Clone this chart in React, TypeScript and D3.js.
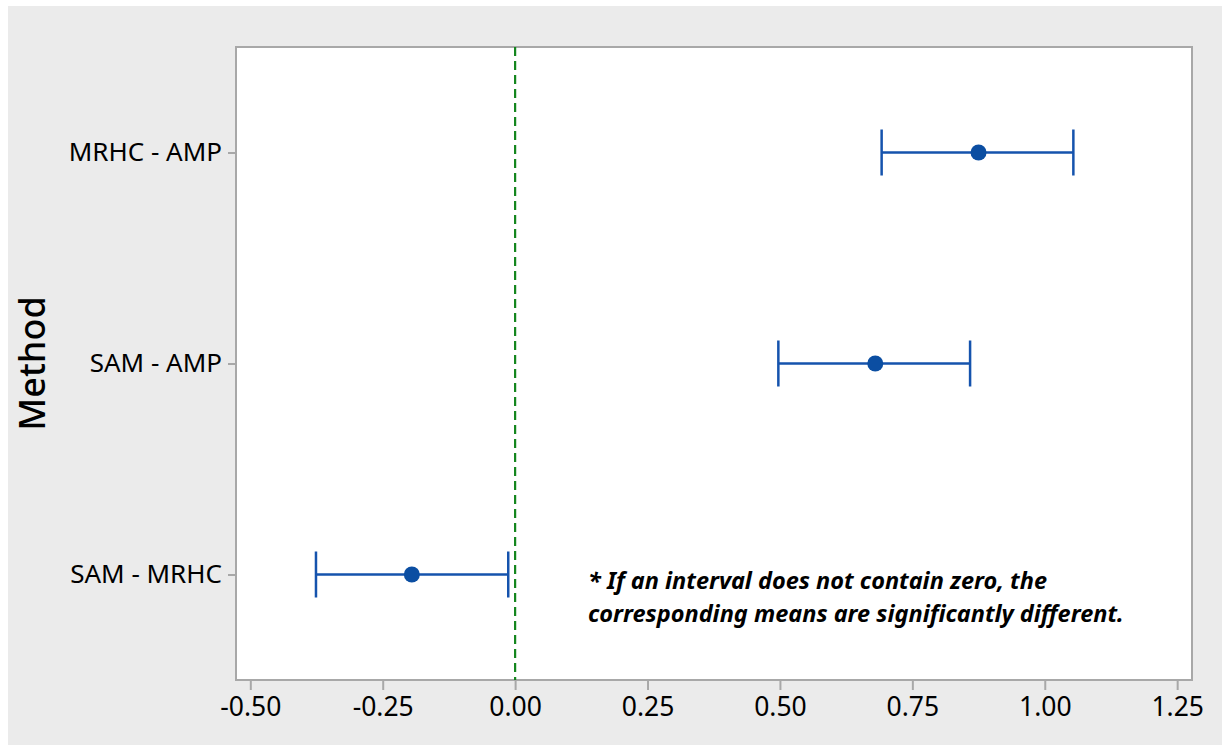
import React, { useEffect, useRef } from 'react';
import * as d3 from 'd3';

// Tukey-style pairwise differences of means
const comparisons = ['MRHC - AMP', 'SAM - AMP', 'SAM - MRHC'];
const centers = [0.875, 0.68, -0.195];
const lowers = [0.692, 0.497, -0.376];
const uppers = [1.054, 0.859, -0.013];
const xTicks = [-0.5, -0.25, 0, 0.25, 0.5, 0.75, 1.0, 1.25];
const noteLines = [
    '* If an interval does not contain zero, the',
    'corresponding means are significantly different.',
];

const W = 1228;
const H = 749;

const IntervalPlot = () => {
    const ref = useRef<HTMLDivElement>(null);

    useEffect(() => {
        const margin = { top: 47, right: 36, bottom: 69, left: 236 };
        const font = '"Noto Sans", "Open Sans", sans-serif';
        const blue = '#1553ad';

        d3.select(ref.current).selectAll('*').remove();

        const svg = d3
            .select(ref.current)
            .append('svg')
            .attr('width', W)
            .attr('height', H)
            .style('position', 'absolute')
            .style('left', '0px')
            .style('top', '0px');

        // sfondo grigio
        svg.append('rect').attr('width', W).attr('height', H).attr('fill', '#fff');
        svg.append('rect').attr('x', 8).attr('y', 6).attr('width', 1214).attr('height', 739).attr('fill', '#ebebeb');

        const x = d3
            .scaleLinear()
            .domain([-0.527, 1.278])
            .range([margin.left, W - margin.right]);

        const y = d3
            .scalePoint()
            .domain(comparisons)
            .range([margin.top, H - margin.bottom])
            .padding(0.5);

        // area del grafico
        svg
            .append('rect')
            .attr('x', margin.left)
            .attr('y', margin.top)
            .attr('width', W - margin.right - margin.left)
            .attr('height', H - margin.bottom - margin.top)
            .attr('fill', '#fff')
            .attr('stroke', '#a8a8a8')
            .attr('stroke-width', 2);

        // asse X
        const xAxis = svg
            .append('g')
            .attr('transform', `translate(0,${H - margin.bottom})`)
            .call(d3.axisBottom(x).tickValues(xTicks).tickSize(10).tickPadding(7).tickFormat(d3.format('.2f')));
        xAxis.select('.domain').remove();
        xAxis.selectAll('line').attr('stroke', '#a8a8a8').attr('stroke-width', 2);
        xAxis
            .selectAll('text')
            .attr('fill', '#000')
            .style('font-family', font)
            .style('font-size', '26.5px')
            .text((d: any) => d3.format('.2f')(d).replace('−', '-'));

        // asse Y
        const yAxis = svg
            .append('g')
            .attr('transform', `translate(${margin.left},0)`)
            .call(d3.axisLeft(y).tickSize(8).tickPadding(6));
        yAxis.select('.domain').remove();
        yAxis.selectAll('line').attr('stroke', '#a8a8a8').attr('stroke-width', 2);
        yAxis
            .selectAll('text')
            .attr('fill', '#000')
            .style('font-family', font)
            .style('font-size', '26px');

        svg
            .append('text')
            .attr('transform', `translate(45,${(margin.top + H - margin.bottom) / 2}) rotate(-90)`)
            .attr('text-anchor', 'middle')
            .attr('fill', '#000')
            .style('font-family', font)
            .style('font-size', '36px')
            .style('font-weight', 500)
            .text('Method');

        // linea dello zero
        svg
            .append('line')
            .attr('x1', x(0))
            .attr('x2', x(0))
            .attr('y1', margin.top)
            .attr('y2', H - margin.bottom)
            .attr('stroke', '#13861d')
            .attr('stroke-width', 2.2)
            .attr('stroke-dasharray', '9,5');

        // intervalli
        const g = svg.append('g').selectAll('g').data(comparisons).join('g');
        g.append('line')
            .attr('x1', (_, i) => x(lowers[i]))
            .attr('x2', (_, i) => x(uppers[i]))
            .attr('y1', (d) => y(d)!)
            .attr('y2', (d) => y(d)!)
            .attr('stroke', blue)
            .attr('stroke-width', 2.5);
        [lowers, uppers].forEach((arr) => {
            g.append('line')
                .attr('x1', (_, i) => x(arr[i]))
                .attr('x2', (_, i) => x(arr[i]))
                .attr('y1', (d) => y(d)! - 23)
                .attr('y2', (d) => y(d)! + 23)
                .attr('stroke', blue)
                .attr('stroke-width', 2.5);
        });
        g.append('circle')
            .attr('cx', (_, i) => x(centers[i]))
            .attr('cy', (d) => y(d)!)
            .attr('r', 8)
            .attr('fill', '#0b4ea2');

        // nota
        svg
            .append('text')
            .attr('x', 588)
            .attr('y', 589)
            .attr('fill', '#000')
            .style('font-family', font)
            .style('font-size', '23.5px')
            .style('font-weight', 'bold')
            .style('font-style', 'italic')
            .selectAll('tspan')
            .data(noteLines)
            .join('tspan')
            .attr('x', 588)
            .attr('dy', (_, i) => (i === 0 ? 0 : 33))
            .text((d) => d);
    }, []);

    return <div ref={ref}></div>;
};

export default function App() {
    return <IntervalPlot />;
}
